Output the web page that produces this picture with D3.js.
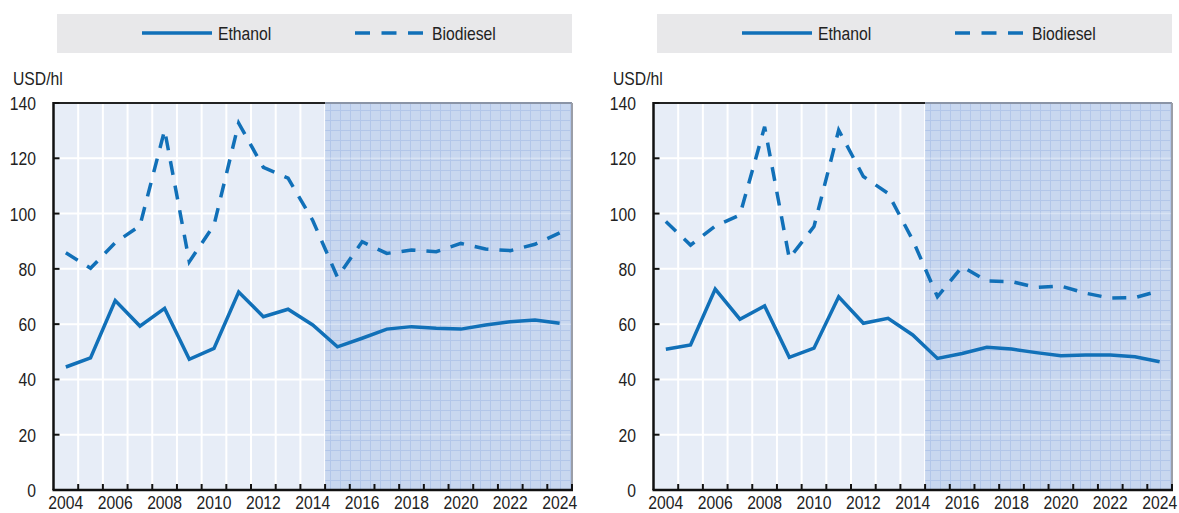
<!DOCTYPE html>
<html><head><meta charset="utf-8">
<script src="https://cdn.jsdelivr.net/npm/d3@7"></script>
<style>
html,body{margin:0;padding:0;background:#fff;}
text{font-family:"Liberation Sans",Arial,sans-serif;fill:#222;}
</style></head>
<body>
<svg id="chart" width="1179" height="513"></svg>
<script>
const years = d3.range(2004, 2025);
const tickYears = [2004,2006,2008,2010,2012,2014,2016,2018,2020,2022,2024];
const yTicks = [0,20,40,60,80,100,120,140];
const projectionStart = 2015;
const seriesNames = ["Ethanol","Biodiesel"];
const unitLabel = "USD/hl";

// Left panel
const ethanolA = [44.5,47.8,68.5,59.3,65.7,47.3,51.2,71.6,62.7,65.4,59.7,51.8,54.9,58.2,59.1,58.5,58.2,59.7,60.9,61.5,60.3];
const biodieselA = [85.8,80.2,89.5,95.6,130.2,82.6,95.8,132.7,116.7,112.8,97.5,77.0,89.8,85.6,86.8,86.2,89.2,87.2,86.6,88.9,93.0];
// Right panel
const ethanolB = [50.9,52.5,72.7,61.8,66.6,48.0,51.3,69.9,60.3,62.1,56.1,47.6,49.4,51.6,51.0,49.7,48.6,48.8,48.8,48.2,46.4];
const biodieselB = [97.1,88.6,95.5,99.5,131.4,83.8,95.3,130.2,113.4,107.3,90.4,69.9,80.8,75.6,75.4,73.3,73.8,71.2,69.4,69.6,72.1];

const svg = d3.select("#chart");
const blue = "#1170b8";
const dash = "14,11";
const fs = 18.5, sx_ = 0.85;

const defs = svg.append("defs");
const pat = defs.append("pattern").attr("id","proj").attr("patternUnits","userSpaceOnUse")
  .attr("width",10).attr("height",10);
pat.append("rect").attr("width",10).attr("height",10).attr("fill","#c8d7ef");
pat.append("path").attr("d","M0,0.5H10M0.5,0V10").attr("stroke","#b2c6e9").attr("stroke-width",1);

// condensed text helper
function label(g, x, y, str, anchor) {
  g.append("text")
    .attr("transform", `translate(${x},${y}) scale(${sx_},1)`)
    .attr("text-anchor", anchor || "start")
    .attr("font-size", fs)
    .text(str);
}

function drawPanel(ox, eth, bio) {
  const g = svg.append("g").attr("transform", `translate(${ox},0)`);
  const left = 53.5, right = 572, top = 103, bottom = 490;
  const x = d3.scaleBand().domain(years).range([left, right]).padding(0);
  const y = d3.scaleLinear().domain([0,140]).range([bottom, top]);
  const cx = d => x(d) + x.bandwidth()/2;

  // legend
  g.append("rect").attr("x",57).attr("y",14).attr("width",515).attr("height",39).attr("fill","#e8e8ea");
  g.append("line").attr("x1",142).attr("x2",212).attr("y1",33).attr("y2",33)
    .attr("stroke",blue).attr("stroke-width",3.5);
  label(g, 218, 40, seriesNames[0]);
  g.append("line").attr("x1",355).attr("x2",423).attr("y1",33).attr("y2",33)
    .attr("stroke",blue).attr("stroke-width",3.5).attr("stroke-dasharray","15,11.5");
  label(g, 432, 40, seriesNames[1]);

  // background
  g.append("rect").attr("x",left).attr("y",top).attr("width",right-left).attr("height",bottom-top).attr("fill","#e7edf7");
  // white gridlines
  g.selectAll(".hg").data(yTicks.slice(1)).enter().append("line")
    .attr("x1",left).attr("x2",right).attr("y1",d=>y(d)).attr("y2",d=>y(d))
    .attr("stroke","#fff").attr("stroke-width",2);
  g.selectAll(".vg").data(years.slice(1)).enter().append("line")
    .attr("x1",d=>x(d)).attr("x2",d=>x(d)).attr("y1",top).attr("y2",bottom)
    .attr("stroke","#fff").attr("stroke-width",2);
  // projection shade
  const sx = x(projectionStart);
  g.append("rect").attr("x",sx).attr("y",top).attr("width",right-sx).attr("height",bottom-top).attr("fill","url(#proj)");
  g.selectAll(".hg2").data(yTicks.slice(1)).enter().append("line")
    .attr("x1",sx).attr("x2",right).attr("y1",d=>y(d)).attr("y2",d=>y(d))
    .attr("stroke","#fff").attr("stroke-opacity",0.3).attr("stroke-width",1.5);
  // frame
  g.append("line").attr("x1",left).attr("x2",sx).attr("y1",top).attr("y2",top).attr("stroke","#222").attr("stroke-width",2);
  g.append("line").attr("x1",sx).attr("x2",right).attr("y1",top).attr("y2",top).attr("stroke","#8a94a6").attr("stroke-width",2);
  g.append("line").attr("x1",right).attr("x2",right).attr("y1",top).attr("y2",bottom).attr("stroke","#9a9ea8").attr("stroke-width",2);

  // lines
  const lineGen = d3.line().x((d,i)=>cx(years[i])).y(d=>y(d));
  g.append("path").datum(eth).attr("d",lineGen).attr("fill","none").attr("stroke",blue)
    .attr("stroke-width",3.5).attr("stroke-linejoin","miter");
  g.append("path").datum(bio).attr("d",lineGen).attr("fill","none").attr("stroke",blue)
    .attr("stroke-width",3.5).attr("stroke-dasharray",dash);

  // axes
  g.append("line").attr("x1",left-1).attr("x2",right+1).attr("y1",bottom).attr("y2",bottom).attr("stroke","#111").attr("stroke-width",2.5);
  g.selectAll(".xt").data(years.slice(1).concat([null])).enter().append("line")
    .attr("x1",d=>d===null?right:x(d)).attr("x2",d=>d===null?right:x(d))
    .attr("y1",bottom).attr("y2",bottom-6).attr("stroke","#111").attr("stroke-width",2);
  tickYears.forEach(d => label(g, cx(d), 509, d, "middle"));

  g.append("line").attr("x1",left).attr("x2",left).attr("y1",top-1).attr("y2",bottom).attr("stroke","#111").attr("stroke-width",2.5);
  g.selectAll(".yt").data(yTicks).enter().append("line")
    .attr("x1",left).attr("x2",left+6).attr("y1",d=>y(d)).attr("y2",d=>y(d)).attr("stroke","#111").attr("stroke-width",2);
  yTicks.forEach(d => label(g, 36, y(d)+7, d, "end"));
  label(g, 13, 85, unitLabel);
}

drawPanel(0, ethanolA, biodieselA);
drawPanel(600, ethanolB, biodieselB);
</script>
</body></html>
